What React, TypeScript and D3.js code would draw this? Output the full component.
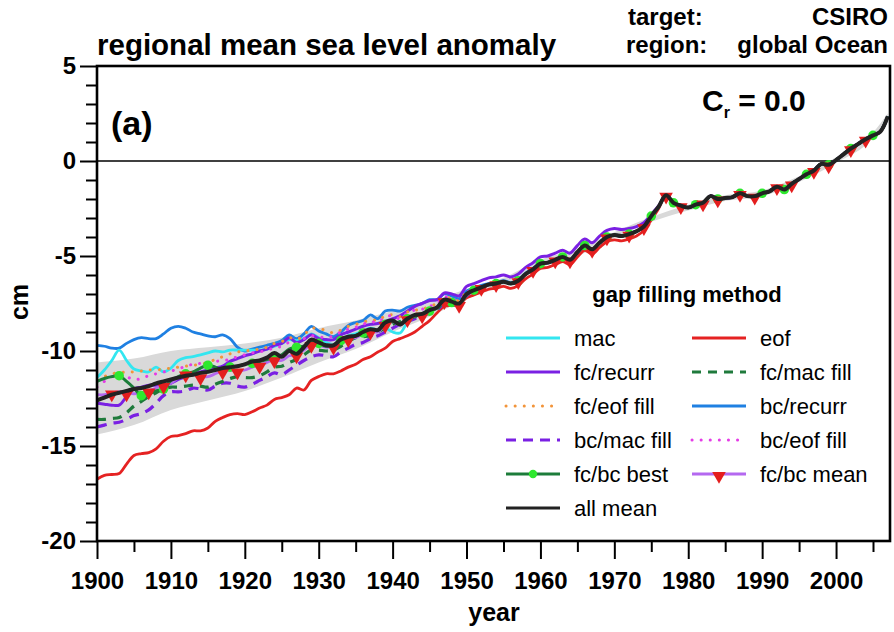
import { useEffect, useRef } from "react";
import * as d3 from "d3";

// ── Data (cm, annual) ───────────────────────────────────────────────────────
const YEARS = d3.range(1900, 2008);

const allMean = [
  -12.6, -12.45, -12.3, -12.2, -12.1, -12.0, -11.95, -11.85, -11.7, -11.6,
  -11.5, -11.4, -11.3, -11.25, -11.15, -11.1, -11.0, -10.9, -10.85, -10.8,
  -10.7, -10.55, -10.5, -10.35, -10.1, -10.3, -10.0, -10.15, -9.8, -9.4,
  -9.55, -9.7, -9.7, -9.4, -9.25, -9.2, -9.0, -8.85, -8.9, -8.5,
  -8.4, -8.6, -8.3, -8.1, -8.05, -7.85, -7.7, -7.3, -7.4, -7.5,
  -7.0, -6.8, -6.65, -6.5, -6.45, -6.35, -6.45, -6.3, -5.95, -5.7,
  -5.4, -5.35, -5.2, -5.05, -5.2, -4.8, -4.45, -4.65, -4.3, -4.0,
  -3.9, -3.95, -3.85, -3.7, -3.45, -2.9, -2.4, -1.8, -2.2, -2.35,
  -2.45, -2.3, -2.2, -1.85, -2.0, -1.95, -1.9, -1.7, -1.85, -1.85,
  -1.7, -1.6, -1.35, -1.5, -1.2, -0.95, -0.7, -0.5, -0.15, -0.2,
  0.05, 0.35, 0.65, 0.9, 1.15, 1.35, 1.55, 2.35,
];

// early parts where methods differ; afterwards they sit on the all-mean curve
const eof = [
  -16.75, -16.55, -16.5, -16.45, -15.95, -15.5, -15.4, -15.35, -15.15, -14.75,
  -14.5, -14.45, -14.35, -14.2, -14.2, -14.05, -13.7, -13.5, -13.35, -13.3,
  -13.35, -13.2, -13.0, -12.85, -12.55, -12.45, -12.3, -11.95, -12.05, -11.55,
  -11.35, -11.2, -11.2, -11.05, -10.85, -10.7, -10.45, -10.3, -10.05, -9.85,
  -9.5, -9.35, -9.2, -9.0, -8.7, -8.4, -8.0, -7.65, -7.6, -7.55,
  -7.2, -7.05, -6.9, -6.75, -6.7, -6.6, -6.7, -6.55, -6.2, -5.95,
  -5.65, -5.6, -5.45, -5.3, -5.45, -5.05, -4.7, -4.9, -4.55, -4.25,
  -4.15, -4.2, -4.1, -3.95, -3.65, -3.1, -2.5,
];

const bcRecurr = [
  -9.7, -9.75, -9.85, -9.85, -9.6, -9.4, -9.3, -9.35, -9.35, -9.1,
  -8.8, -8.7, -8.8, -9.0, -9.1, -9.2, -9.25, -9.15, -9.35, -9.8,
  -10.0, -9.9, -9.8, -9.7, -9.6, -9.45, -9.15, -9.35, -9.1, -8.7,
  -8.95, -9.1, -9.25, -9.0, -8.65, -8.5, -8.4, -8.1, -8.3, -7.9,
  -7.85, -7.9, -7.7, -7.6, -7.5, -7.3, -7.3, -7.0, -7.1, -7.25,
  -6.85, -6.7, -6.55, -6.45, -6.4, -6.3, -6.4, -6.25, -5.9, -5.65,
  -5.35,
];

const mac = [
  -11.4, -11.0, -10.5, -9.95, -10.5, -10.95, -11.05, -11.1, -10.85, -11.1,
  -10.9, -10.5, -10.35, -10.3, -10.2, -10.1, -10.0, -10.05, -9.95, -9.95,
  -9.95, -9.95, -9.95, -9.9, -9.75, -9.6, -9.4, -9.45, -9.35, -9.1,
  -9.3, -9.55, -9.65, -9.4, -9.2, -9.1, -8.95, -8.8, -8.9, -8.8,
  -9.0, -9.05, -8.5, -8.2, -8.05, -7.85,
];

const fcRecurr = [
  -12.75, -12.8, -12.85, -12.85, -12.4, -12.0, -11.9, -11.8, -11.8, -11.8,
  -11.7, -11.5, -11.35, -11.2, -11.1, -11.0, -10.9, -10.8, -10.55, -10.4,
  -10.25, -10.15, -10.0, -9.9, -9.7, -9.6, -9.3, -9.55, -9.4, -9.15,
  -9.35, -9.4, -9.4, -9.15, -9.0, -8.85, -8.7, -8.6, -8.55, -8.45,
  -8.3, -8.15, -7.9, -7.65, -7.5, -7.35, -7.3, -6.95, -7.0, -7.1,
  -6.6, -6.45, -6.3, -6.15, -6.1, -6.0, -6.1, -5.95, -5.6, -5.35,
  -5.05, -5.0, -4.85, -4.7, -4.85, -4.45, -4.1, -4.3, -3.95, -3.65,
  -3.55, -3.6, -3.55, -3.45, -3.25, -2.8, -2.35,
];

const bcMacFill = [
  -14.0, -13.9, -13.8, -13.75, -13.6, -13.4, -13.3, -13.1, -12.75, -12.35,
  -12.15, -12.15, -12.1, -11.95, -12.0, -12.05, -11.85, -11.7, -11.7, -11.85,
  -11.9, -11.75, -11.55, -11.35, -11.15, -11.25, -11.0, -10.75, -10.5, -10.3,
  -10.2, -10.25, -10.3, -10.05, -9.85, -9.65, -9.55, -9.35, -9.2, -9.0,
  -8.8, -8.6, -8.45, -8.3, -8.15, -8.0, -7.85, -7.5, -7.55, -7.6,
  -7.1,
];

const fcMacFill = [
  -13.6, -13.6, -13.55, -13.5, -13.25, -12.9, -12.65, -12.4, -12.2, -12.0,
  -11.9, -11.9, -11.85, -11.8, -11.85, -11.9, -11.75, -11.6, -11.45, -11.35,
  -11.4, -11.4, -11.3, -11.1, -10.85, -10.8, -10.6, -10.45, -10.2, -9.95,
  -9.95, -10.0, -9.95, -9.75, -9.5, -9.3, -9.25, -9.2, -9.0, -8.8,
  -8.6, -8.45, -8.3, -8.2, -8.1, -7.95, -7.8, -7.4, -7.45, -7.55,
  -7.05,
];

const fcEofFill = [
  -11.5, -11.35, -11.2, -11.15, -11.1, -11.1, -11.05, -11.0, -11.0, -10.95,
  -10.9, -10.85, -10.8, -10.75, -10.7, -10.6, -10.45, -10.3, -10.15, -10.05,
  -10.0, -9.95, -9.9, -9.8, -9.6, -9.5, -9.3, -9.4, -9.15, -8.8,
  -8.85, -8.9, -9.05, -8.9, -8.7, -8.6, -8.5, -8.35, -8.4, -8.15,
  -8.1, -8.2, -7.95, -7.85, -7.8, -7.65, -7.5, -7.15, -7.25, -7.35,
  -6.9,
];

const bcEofFill = [
  -11.9, -11.6, -11.35, -11.25, -11.35, -11.5, -11.45, -11.3, -11.2, -11.1,
  -11.05, -10.95, -10.8, -10.7, -10.65, -10.6, -10.55, -10.5, -10.45, -10.3,
  -10.2, -10.1, -10.05, -9.95, -9.85, -9.75, -9.55, -9.6, -9.35, -9.2,
  -9.25, -9.3, -9.2, -9.0, -8.85, -8.75, -8.6, -8.45, -8.5, -8.2,
  -8.15, -8.3, -8.0, -7.85, -7.8, -7.65, -7.5, -7.15, -7.25, -7.35,
  -6.9,
];

const fcBcBest = [
  -11.6, -11.45, -11.35, -11.3, -11.6, -11.95, -12.35, -12.25, -12.1, -12.0,
  -11.55, -11.35, -11.2, -11.1, -10.9, -10.75, -10.85, -11.0, -10.85, -10.8,
  -10.7, -10.65, -10.55, -10.45, -10.35, -10.2, -9.9, -9.8, -9.75, -9.5,
  -9.6, -9.75, -9.7, -9.45, -9.3, -9.2, -9.05, -8.9, -8.9, -8.6,
  -8.45, -8.6, -8.3, -8.15, -8.1, -7.9, -7.75, -7.35, -7.45, -7.55,
  -7.05,
];

const fcBcMean = [
  -12.3, -12.3, -12.2, -12.15, -12.2, -12.25, -12.2, -12.1, -11.95, -11.8,
  -11.7, -11.4, -11.2, -11.25, -11.35, -11.35, -11.2, -11.05, -11.0, -11.05,
  -11.0, -10.85, -10.75, -10.6, -10.45, -10.5, -10.25, -10.2, -9.95, -9.65,
  -9.7, -9.8, -9.75, -9.5, -9.35, -9.3, -9.1, -8.95, -9.0, -8.6,
  -8.45, -8.65, -8.3, -8.15, -8.1, -7.9, -7.75, -7.35, -7.45, -7.55,
  -7.05,
];

// grey uncertainty band of the all-mean curve
const BAND_YEARS = [1900, 1905, 1910, 1915, 1920, 1925, 1930, 1935, 1940, 1945, 1950, 1955, 1960, 1965, 1970, 1975, 1980, 1985, 1990, 1995, 2000, 2005, 2007];
const BAND_HI = [-10.6, -10.4, -10.0, -9.8, -9.6, -9.3, -8.8, -8.4, -7.9, -7.4, -6.75, -6.15, -5.2, -4.6, -3.75, -2.95, -2.3, -1.8, -1.55, -0.8, 0.2, 1.5, 2.5];
const BAND_LO = [-14.4, -13.9, -13.1, -12.6, -12.1, -11.4, -10.6, -9.9, -9.0, -8.2, -7.25, -6.55, -5.6, -5.0, -4.05, -3.2, -2.6, -2.1, -1.85, -1.1, -0.1, 1.2, 2.2];

const X_MAJOR = d3.range(1900, 2001, 10);
const X_MINOR = d3.range(1905, 2006, 10);
const Y_MAJOR = [-20, -15, -10, -5, 0, 5];
const Y_MINOR = d3.range(-19, 5).filter((v) => v % 5 !== 0);

const BEST_MARKS = d3.range(1903, 2007, 3);
const MEAN_MARKS = d3.range(1902, 2007, 2.5).map(Math.floor);

// ── Layout ──────────────────────────────────────────────────────────────────
const W = 894;
const H = 632;
const X0 = 97, X1 = 890, Y0 = 66, Y1 = 541;
const FONT = "'Liberation Sans', Arial, Helvetica, sans-serif";

type Style = { color: string; width: number; dash?: string; cap?: string };

const full = (early: number[]) => YEARS.map((_, i) => (i < early.length ? early[i] : allMean[i]));

const SERIES: { key: string; label: string; values: number[]; style: Style }[] = [
  { key: "eof",      label: "eof",          values: full(eof),       style: { color: "#e52222", width: 2.8 } },
  { key: "bcrec",    label: "bc/recurr",    values: full(bcRecurr),  style: { color: "#1f80e2", width: 2.8 } },
  { key: "mac",      label: "mac",          values: full(mac),       style: { color: "#33e6f0", width: 2.8 } },
  { key: "fcrec",    label: "fc/recurr",    values: full(fcRecurr),  style: { color: "#7a20e3", width: 3 } },
  { key: "bcmac",    label: "bc/mac fill",  values: full(bcMacFill), style: { color: "#7a20e3", width: 3.2, dash: "10 7" } },
  { key: "fcmac",    label: "fc/mac fill",  values: full(fcMacFill), style: { color: "#1f7a3c", width: 3.2, dash: "9 7" } },
  { key: "fceof",    label: "fc/eof fill",  values: full(fcEofFill), style: { color: "#f2943a", width: 3, dash: "0.1 9", cap: "round" } },
  { key: "bceof",    label: "bc/eof fill",  values: full(bcEofFill), style: { color: "#e53ce6", width: 3, dash: "0.1 9", cap: "round" } },
  { key: "fcbcmean", label: "fc/bc mean",   values: full(fcBcMean),  style: { color: "#b468f0", width: 2.8 } },
  { key: "fcbcbest", label: "fc/bc best",   values: full(fcBcBest),  style: { color: "#1c7c3a", width: 3 } },
];

const MEAN_STYLE: Style = { color: "#222222", width: 4 };
const DOT_FILL = "#2ee82e";
const TRI_FILL = "#e41e1e";

const LEGEND_COLS: string[][] = [
  ["mac", "fcrec", "fceof", "bcmac", "fcbcbest", "allmean"],
  ["eof", "fcmac", "bcrec", "bceof", "fcbcmean"],
];

export default function App() {
  const ref = useRef<SVGSVGElement>(null);

  useEffect(() => {
    document.body.style.margin = "0";
    if (!ref.current) return;
    const svg = d3.select(ref.current);
    svg.selectAll("*").remove();

    const x = d3.scaleLinear().domain([1900, 2007.3]).range([X0, X1]);
    const y = d3.scaleLinear().domain([-20, 5]).range([Y1, Y0]);

    svg.append("defs").append("clipPath").attr("id", "plot")
      .append("rect").attr("x", X0).attr("y", Y0).attr("width", X1 - X0).attr("height", Y1 - Y0);

    const plot = svg.append("g").attr("clip-path", "url(#plot)");

    // band
    const band = d3.area<number>()
      .x((_, i) => x(BAND_YEARS[i]))
      .y0((_, i) => y(BAND_LO[i]))
      .y1((d) => y(d))
      .curve(d3.curveMonotoneX);
    plot.append("path").datum(BAND_HI).attr("d", band).attr("fill", "#d9d9d9");

    // zero line
    plot.append("line")
      .attr("x1", X0).attr("x2", X1).attr("y1", y(0)).attr("y2", y(0))
      .attr("stroke", "#000").attr("stroke-width", 1.6);

    const line = d3.line<number>()
      .x((_, i) => x(YEARS[i]))
      .y((d) => y(d))
      .curve(d3.curveCatmullRom.alpha(0.5));

    const drawLine = (vals: number[], s: Style) =>
      plot.append("path").datum(vals).attr("d", line)
        .attr("fill", "none")
        .attr("stroke", s.color)
        .attr("stroke-width", s.width)
        .attr("stroke-dasharray", s.dash ?? null)
        .attr("stroke-linecap", s.cap ?? "butt")
        .attr("stroke-linejoin", "round");

    SERIES.forEach((s) => drawLine(s.values, s.style));

    const best = SERIES.find((s) => s.key === "fcbcbest")!.values;
    const meanFc = SERIES.find((s) => s.key === "fcbcmean")!.values;
    const tri = d3.symbol().type(d3.symbolTriangle).size(80);

    plot.append("g").selectAll("circle").data(BEST_MARKS).join("circle")
      .attr("cx", (d) => x(d)).attr("cy", (d) => y(best[d - 1900]))
      .attr("r", 4.8).attr("fill", DOT_FILL);

    plot.append("g").selectAll("path").data(MEAN_MARKS).join("path")
      .attr("d", tri)
      .attr("transform", (d) => `translate(${x(d)},${y(meanFc[d - 1900]) + 1.5}) rotate(180)`)
      .attr("fill", TRI_FILL);

    drawLine(allMean, MEAN_STYLE);

    // frame
    svg.append("rect")
      .attr("x", X0).attr("y", Y0).attr("width", X1 - X0).attr("height", Y1 - Y0)
      .attr("fill", "none").attr("stroke", "#000").attr("stroke-width", 2.6);

    // axes
    const styleAxis = (g: d3.Selection<SVGGElement, unknown, null, undefined>) => {
      g.select(".domain").remove();
      g.selectAll(".tick line").attr("stroke", "#000").attr("stroke-width", 2);
      g.selectAll("text")
        .attr("fill", "#000").attr("font-family", FONT)
        .attr("font-size", 24).attr("font-weight", "bold");
    };

    svg.append("g").attr("transform", `translate(0,${Y1})`)
      .call(d3.axisBottom(x).tickValues(X_MAJOR).tickSize(18).tickPadding(13).tickFormat((d) => String(d)))
      .call(styleAxis);
    svg.append("g").attr("transform", `translate(0,${Y1})`)
      .call(d3.axisBottom(x).tickValues(X_MINOR).tickSize(11).tickFormat(() => ""))
      .call(styleAxis);
    svg.append("g").attr("transform", `translate(${X0},0)`)
      .call(d3.axisLeft(y).tickValues(Y_MAJOR).tickSize(17).tickPadding(4).tickFormat((d) => String(d)))
      .call(styleAxis);
    svg.append("g").attr("transform", `translate(${X0},0)`)
      .call(d3.axisLeft(y).tickValues(Y_MINOR).tickSize(11).tickFormat(() => ""))
      .call(styleAxis);

    const text = (tx: number, ty: number, s: string, size: number, opts: { anchor?: string; weight?: string } = {}) =>
      svg.append("text")
        .attr("x", tx).attr("y", ty)
        .attr("font-family", FONT).attr("font-size", size)
        .attr("font-weight", opts.weight ?? "bold")
        .attr("text-anchor", opts.anchor ?? "start")
        .attr("fill", "#000")
        .text(s);

    // titles
    text(97, 55, "regional mean sea level anomaly", 29.5);
    text(628, 25, "target:", 24);
    text(888, 25, "CSIRO", 24, { anchor: "end" });
    text(626, 53, "region:", 24);
    text(888, 53, "global Ocean", 24, { anchor: "end" });
    text(494, 621, "year", 25, { anchor: "middle" });
    svg.append("text")
      .attr("transform", "translate(28,302) rotate(-90)")
      .attr("text-anchor", "middle")
      .attr("font-family", FONT).attr("font-size", 25).attr("font-weight", "bold")
      .text("cm");

    text(111, 135, "(a)", 34);
    const cr = svg.append("text").attr("x", 702).attr("y", 111)
      .attr("font-family", FONT).attr("font-weight", "bold").attr("font-size", 30);
    cr.append("tspan").text("C");
    cr.append("tspan").attr("font-size", 16).attr("dy", 7).text("r");
    cr.append("tspan").attr("dy", -7).text(" = 0.0");

    // legend
    text(687, 302, "gap filling method", 22, { anchor: "middle" });
    const rowsY = [338, 372, 406, 440, 474, 508];
    const colX = [506, 692];
    const lookup = (k: string) =>
      k === "allmean" ? { label: "all mean", style: MEAN_STYLE } : SERIES.find((s) => s.key === k)!;

    LEGEND_COLS.forEach((col, ci) => {
      col.forEach((k, ri) => {
        const item = lookup(k);
        const lx = colX[ci];
        const ly = rowsY[ri];
        const s = item.style;
        svg.append("line")
          .attr("x1", lx).attr("x2", lx + 54).attr("y1", ly).attr("y2", ly)
          .attr("stroke", s.color).attr("stroke-width", Math.min(s.width, 3.2))
          .attr("stroke-dasharray", s.dash ?? null)
          .attr("stroke-linecap", s.cap ?? "butt");
        if (k === "fcbcbest") {
          svg.append("circle").attr("cx", lx + 27).attr("cy", ly).attr("r", 4.2).attr("fill", DOT_FILL);
        }
        if (k === "fcbcmean") {
          svg.append("path").attr("d", tri)
            .attr("transform", `translate(${lx + 27},${ly + 2}) rotate(180)`)
            .attr("fill", TRI_FILL);
        }
        text(lx + 68, ly + 8, item.label, 22, { weight: "normal" });
      });
    });
  }, []);

  return <svg ref={ref} width={W} height={H} style={{ display: "block", background: "#fff" }} />;
}
